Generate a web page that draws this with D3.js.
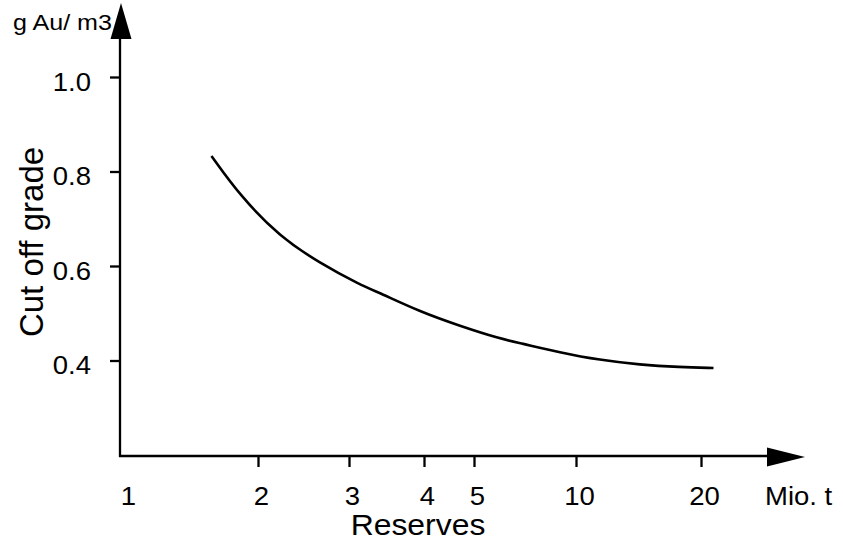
<!DOCTYPE html>
<html>
<head>
<meta charset="utf-8">
<script src="https://cdn.jsdelivr.net/npm/d3@7"></script>
<style>
  html, body { margin: 0; padding: 0; background: #fff; }
  svg { display: block; }
  text { font-family: "Liberation Sans", Arial, Helvetica, sans-serif; fill: #000; }
</style>
</head>
<body>
<svg id="chart" width="843" height="542"></svg>
<script>
// ---- data ----
const xTicks = [1, 2, 3, 4, 5, 10, 20];
const xTickLabels = ["1", "2", "3", "4", "5", "10", "20"];
const yTicks = [0.4, 0.6, 0.8, 1.0];
const yTickLabels = ["0.4", "0.6", "0.8", "1.0"];
const reserves = [1.65, 1.87, 2.24, 2.68, 3.15, 3.41, 3.95, 4.72, 6.27, 7.25, 9.22, 11.9, 15.1, 18.3, 21.0];
const cutoff   = [0.833, 0.747, 0.662, 0.606, 0.560, 0.543, 0.503, 0.473, 0.446, 0.437, 0.417, 0.401, 0.391, 0.386, 0.384];
const xTitle = "Reserves";
const xUnit = "Mio. t";
const yTitle = "Cut off grade";
const yUnit = "g Au/ m3";

// ---- layout ----
const svg = d3.select("#chart");
const originX = 120, originY = 456;
const sx = 1.1; // horizontal text stretch seen in the reference

// hand-spaced reserve axis (piecewise linear between labelled ticks)
const x = d3.scaleLinear().domain(xTicks).range([125, 258, 349, 424, 474, 576, 701]);
const y = d3.scaleLinear().domain([0.2, 1.0]).range([455, 77]);

// axes lines
svg.append("line").attr("x1", originX).attr("y1", originY + 1).attr("x2", originX).attr("y2", 38)
  .attr("stroke", "#000").attr("stroke-width", 2.3);
svg.append("line").attr("x1", originX - 1).attr("y1", originY).attr("x2", 769).attr("y2", originY)
  .attr("stroke", "#000").attr("stroke-width", 2.3);
// arrow heads
svg.append("path").attr("d", `M${originX + 1},3 L${originX - 9.5},39 L${originX + 11.5},39 Z`).attr("fill", "#000");
svg.append("path").attr("d", `M767,447.5 L805,457 L767,466.5 Z`).attr("fill", "#000");

// x axis
const xAxis = d3.axisBottom(x).tickValues(xTicks)
  .tickFormat((d, i) => xTickLabels[i]).tickSize(11);
const gx = svg.append("g").attr("transform", `translate(0,${originY})`).call(xAxis);
gx.select(".domain").remove();
gx.selectAll(".tick line").attr("stroke", "#000").attr("stroke-width", 2.3)
  .attr("display", d => d === xTicks[0] ? "none" : null);
gx.selectAll(".tick text")
  .attr("x", null).attr("y", null).attr("dy", null)
  .attr("transform", `translate(3,49) scale(${sx},1)`)
  .attr("text-anchor", "middle")
  .style("font-size", "25px").style("font-family", null);

// y axis
const yAxis = d3.axisLeft(y).tickValues(yTicks)
  .tickFormat((d, i) => yTickLabels[i]).tickSize(10);
const gy = svg.append("g").attr("transform", `translate(${originX},0)`).call(yAxis);
gy.select(".domain").remove();
gy.selectAll(".tick line").attr("stroke", "#000").attr("stroke-width", 2.3);
gy.selectAll(".tick text")
  .attr("x", null).attr("y", null).attr("dy", null)
  .attr("transform", `translate(-29,13) scale(${sx},1)`)
  .attr("text-anchor", "end")
  .style("font-size", "25px").style("font-family", null);

// curve
const line = d3.line()
  .x(d => x(d[0])).y(d => y(d[1]))
  .curve(d3.curveBasis);
svg.append("path")
  .datum(reserves.map((r, i) => [r, cutoff[i]]))
  .attr("d", line)
  .attr("fill", "none").attr("stroke", "#000").attr("stroke-width", 2.6);

// titles
svg.append("text").attr("transform", `translate(418,535) scale(${sx},1)`)
  .attr("text-anchor", "middle").style("font-size", "29px").text(xTitle);
svg.append("text").attr("transform", `translate(765,505) scale(${sx},1)`)
  .attr("text-anchor", "start").style("font-size", "25px").text(xUnit);
svg.append("text").attr("transform", `translate(43,242) rotate(-90)`)
  .attr("text-anchor", "middle").style("font-size", "33px").text(yTitle);
svg.append("text").attr("transform", `translate(13,30) scale(1.14,1)`)
  .attr("text-anchor", "start").style("font-size", "22px").text(yUnit);
</script>
</body>
</html>
